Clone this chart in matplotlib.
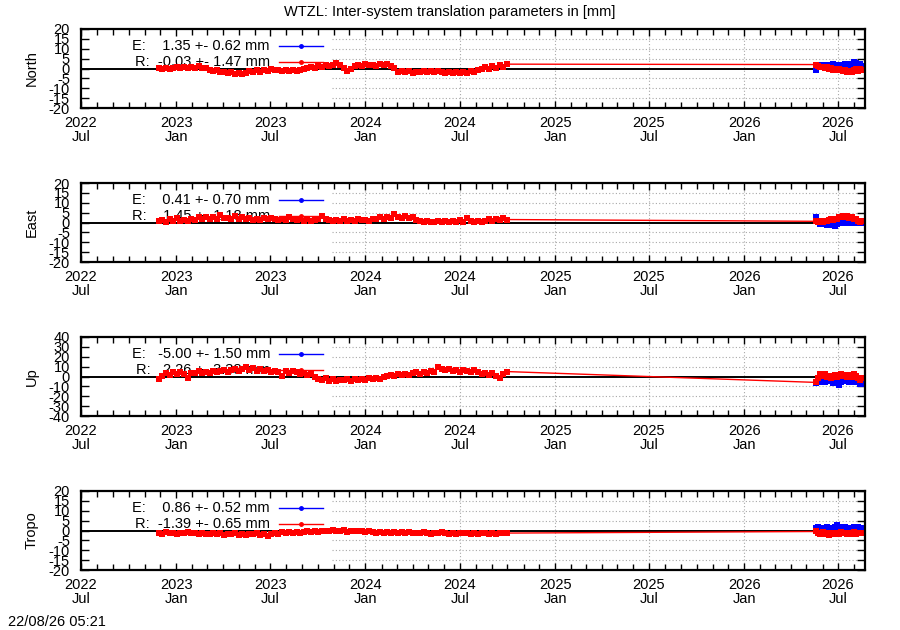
import matplotlib
matplotlib.use('Agg')
import matplotlib.pyplot as plt
import matplotlib.dates as mdates
import numpy as np
import pandas as pd

plt.rcParams['font.family'] = ['Liberation Sans', 'DejaVu Sans']
FS = 10.5

TITLE = "WTZL: Inter-system translation parameters in [mm]"
STAMP = "22/08/26 05:21"
PANELS = ["North", "East", "Up", "Tropo"]
YLIMS = [(-20, 20, 5), (-20, 20, 5), (-40, 40, 10), (-20, 20, 5)]
E_LABELS = ["E:    1.35 +- 0.62 mm", "E:    0.41 +- 0.70 mm",
            "E:   -5.00 +- 1.50 mm", "E:    0.86 +- 0.52 mm"]
R_LABELS = ["R:  -0.03 +- 1.47 mm", "R:    1.45 +- 1.18 mm",
            "R:   2.26 +- 3.38 mm", "R:  -1.39 +- 0.65 mm"]

XMIN, XMAX = "2022-07-01", "2026-08-22"
SEG1_START, SEG1_STEP = "2022-11-28", "7D"
SEG2_START, SEG2_STEP = "2026-05-20", "4D"

north_r1 = [0.2, -0.4, 0.5, -0.2, 0.3, 0.8, 0.2, 1.0, 0.4, 0.9,
            0.3, 1.1, 0.5, 0.2, -0.8, -1.5, -1.0, -2.0, -1.6, -2.4,
            -1.8, -2.6, -2.1, -3.0, -2.2, -1.4, -1.9, -1.0, -1.6, -0.6,
            -1.2, -0.4, -1.0, -0.7, -1.3, -0.8, -1.1, -0.6, -1.2, -0.9,
            -0.4, 0.2, 0.8, 0.4, 1.2, 0.8, 1.6, 1.1, 2.0, 2.6,
            1.8, 0.4, -1.2, -0.2, 1.2, 1.8, 1.4, 2.2, 1.6, 2.0,
            1.5, 2.4, 1.7, 2.1, 1.4, 0.5, -1.8, -1.2, -2.0, -1.5,
            -2.2, -1.6, -1.9, -1.3, -1.8, -1.4, -2.0, -1.5, -1.9, -2.3,
            -1.7, -2.5, -2.0, -2.4, -1.8, -2.2, -1.2, -1.6, -0.8, -0.2,
            0.6, -0.3, 1.2, 0.5, 1.8, 1.0, 2.2]
north_r2 = [2.0, 1.2, 0.6, 1.0, 0.2, 0.6, -0.2, 0.4, -0.6, 0.0, -0.8, -0.3,
            -1.0, -1.4, -0.8, -1.8, -1.2, -2.0, -1.0, -0.4, -1.2, -0.2, -0.8]
north_e2 = [-0.8, 1.0, 1.6, 1.2, 2.0, 1.4, 1.8, 1.2, 2.2, 1.6, 1.8, 1.3,
            2.0, 1.5, 2.3, 1.8, 2.4, 2.0, 3.2, 2.6, 1.8, 2.4, 1.2]

east_r1 = [0.8, 1.5, 0.4, 1.8, 1.0, 2.2, 0.6, 1.4, 0.9, 2.0,
           1.2, 2.6, 1.8, 3.0, 2.0, 2.8, 1.6, 3.6, 2.2, 2.5,
           1.8, 3.2, 2.0, 2.6, 1.7, 2.3, 1.5, 2.0, 1.4, 2.1,
           1.6, 2.4, 1.8, 1.3, 2.0, 1.5, 2.6, 1.7, 1.2, 1.8,
           1.0, 1.6, 0.9, 1.4, 2.0, 3.2, 1.8, 1.2, 0.8, 1.5,
           1.0, 1.6, 0.7, 1.3, 1.0, 1.8, 1.1, 1.5, 0.9, 1.6,
           2.0, 2.6, 1.9, 3.0, 2.4, 4.2, 3.0, 2.5, 3.4, 2.2,
           2.8, 1.5, 0.6, 0.2, 0.8, 0.4, 0.1, 0.7, 0.3, 0.6,
           0.2, 0.9, 0.4, 1.2, 0.5, 2.4, 0.8, 0.3, 0.7, 0.2,
           1.0, 1.6, 0.8, 1.9, 1.2, 2.2, 1.5]
east_r2 = [0.6, 0.2, 0.8, 0.4, 1.0, 0.6, 1.4, 1.8, 1.2, 2.0, 1.6, 2.6,
           3.0, 3.4, 2.8, 3.2, 2.4, 2.8, 2.0, 1.6, 1.0, 0.4, 0.8]
east_e2 = [2.6, 0.4, -0.6, -1.0, -0.4, -1.2, -0.2, -0.8, -1.4, -1.7, -0.6, -0.2,
           0.3, -0.4, 0.2, -0.3, 0.4, -0.2, 0.6, 0.1, -0.5, 0.2, -0.3]

up_r1 = [-3.0, 0.5, 3.5, 2.0, 5.0, 3.0, 4.5, 2.5, -2.0, 3.5,
         4.0, 5.5, 3.5, 5.0, 4.0, 6.0, 4.5, 5.5, 7.0, 5.0,
         6.5, 8.0, 6.0, 7.5, 10.0, 7.0, 8.5, 6.0, 7.5, 5.5,
         6.5, 4.5, 6.0, 5.0, 0.5, 5.5, 4.0, 6.0, 4.5, 3.0,
         3.5, 2.0, 2.5, 0.0, -2.5, -3.5, -2.0, -4.5, -3.0, -5.0,
         -3.5, -4.0, -2.5, -5.0, -3.0, -4.0, -2.5, -3.5, -2.0, -3.0,
         -1.5, -2.5, -1.0, 0.5, 1.5, 1.0, 2.5, 1.5, 3.0, 2.0,
         3.5, 4.5, 3.0, 5.0, 4.0, 5.5, 4.5, 9.5, 8.0, 6.5,
         7.5, 5.5, 6.5, 5.0, 7.0, 6.0, 4.5, 6.5, 5.0, 3.0,
         4.0, 2.0, 3.5, 1.0, -1.5, 2.5, 5.0]
up_r2 = [-6.0, -2.0, 2.5, 0.5, 3.0, -1.0, 1.0, -2.0, 0.0, 2.0, -0.5, 1.5,
         3.0, 0.5, 2.0, -1.0, 1.5, 0.0, 3.0, 1.0, -1.5, -4.0, -2.0]
up_e2 = [-7.0, -4.0, -5.5, -3.5, -6.0, -4.5, -5.0, -3.5, -6.5, -4.0, -5.5, -8.5,
         -6.0, -4.5, -5.0, -3.5, -5.5, -4.0, -6.0, -4.5, -5.5, -7.5, -8.0]

tropo_r1 = [-1.2, -1.8, -1.0, -1.5, -1.1, -1.6, -1.2, -1.4, -0.9, -1.5,
            -1.3, -1.7, -1.2, -1.6, -2.0, -1.5, -1.9, -1.4, -2.2, -1.7,
            -2.0, -1.5, -2.3, -1.8, -2.1, -1.6, -2.0, -1.5, -2.4, -1.8,
            -3.0, -1.6, -1.2, -1.7, -1.0, -1.4, -0.9, -1.3, -0.7, -1.2,
            -0.8, -0.5, -1.0, -0.2, -0.6, 0.0, -0.4, -0.1, 0.2, -0.5,
            -0.2, 0.1, -0.6, -0.3, 0.0, -0.5, -0.2, -0.8, -0.4, -0.9,
            -1.1, -0.7, -1.3, -0.9, -1.2, -1.0, -1.4, -0.8, -1.3, -1.0,
            -1.5, -1.1, -1.4, -0.9, -1.3, -1.6, -1.2, -1.5, -1.0, -1.4,
            -1.7, -1.3, -1.8, -1.2, -1.5, -1.1, -1.6, -1.3, -1.9, -1.4,
            -1.2, -1.7, -1.3, -1.6, -1.1, -1.5, -1.3]
tropo_r2 = [-0.5, -1.2, -1.6, -1.0, -1.8, -1.3, -2.2, -1.5, -1.1, -2.0, -1.4, -1.7,
            -1.0, -1.5, -1.2, -1.9, -1.3, -1.6, -1.0, -1.8, -1.2, -1.5, -1.3]
tropo_e2 = [1.2, 1.6, 0.9, 1.4, 1.1, 1.7, 1.3, 1.0, 1.5, 1.8, 2.6, 1.9,
            1.4, 1.2, 1.6, 1.0, 1.5, 1.3, 1.7, 1.2, 1.6, 1.1, 1.4]

R1 = [north_r1, east_r1, up_r1, tropo_r1]
R2 = [north_r2, east_r2, up_r2, tropo_r2]
E2 = [north_e2, east_e2, up_e2, tropo_e2]

W, H = 900, 630
fig = plt.figure(figsize=(9, 6.3), dpi=100)
fig.patch.set_facecolor('white')

LEFT, RIGHT = 81, 865
TOPS = [29, 183, 337, 491]
PH = 79
KEY_RIGHT = 332

x0 = pd.Timestamp(XMIN)
x1 = pd.Timestamp(XMAX)

for k in range(4):
    top = TOPS[k]
    ax = fig.add_axes([LEFT / W, 1 - (top + PH) / H, (RIGHT - LEFT) / W, PH / H])
    lo, hi, st = YLIMS[k]
    d1 = pd.date_range(SEG1_START, periods=len(R1[k]), freq=SEG1_STEP)
    d2 = pd.date_range(SEG2_START, periods=len(R2[k]), freq=SEG2_STEP)
    dates_r = d1.append(d2)
    vals_r = list(R1[k]) + list(R2[k])

    ax.set_xlim(x0, x1)
    ax.set_ylim(lo, hi)
    yt = np.arange(lo, hi + st, st)
    ax.set_yticks(yt)
    ax.set_yticklabels([str(int(v)) for v in yt])
    ax.xaxis.set_major_locator(mdates.MonthLocator(bymonth=[1, 7]))
    ax.xaxis.set_minor_locator(mdates.MonthLocator())
    ax.xaxis.set_major_formatter(mdates.DateFormatter('%Y\n%b'))

    ax.tick_params(axis='x', which='major', direction='in', length=5, width=1,
                   top=True, labelsize=FS, pad=6)
    ax.tick_params(axis='x', which='minor', direction='in', length=4, width=1, top=True)
    ax.tick_params(axis='y', which='major', direction='in', length=6, width=1,
                   right=True, labelsize=FS, pad=8)
    for lab in ax.get_xticklabels():
        lab.set_linespacing(1.0)
    for sp in ax.spines.values():
        sp.set_linewidth(1.6)
        sp.set_zorder(5)

    # grid (hidden behind the opaque key region)
    cut_frac = (KEY_RIGHT - LEFT) / (RIGHT - LEFT)
    cut_num = mdates.date2num(x0) + cut_frac * (mdates.date2num(x1) - mdates.date2num(x0))
    for t in ax.get_xticks():
        if cut_num <= t <= mdates.date2num(x1):
            ax.axvline(t, color='#a8a8a8', lw=0.8, linestyle=(0, (1, 2)), zorder=0.5)
    for v in yt:
        if v not in (lo, hi, 0):
            ax.axhline(v, xmin=cut_frac, xmax=1, color='#a8a8a8', lw=0.8,
                       linestyle=(0, (1, 2)), zorder=0.5)

    ax.axhline(0, color='black', lw=1.4, zorder=1.5)

    # key
    ky = [1 - 16.7 / PH, 1 - 32.7 / PH]
    tx = (270 - LEFT) / (RIGHT - LEFT)
    lx = [(279 - LEFT) / (RIGHT - LEFT), (301 - LEFT) / (RIGHT - LEFT),
          (323 - LEFT) / (RIGHT - LEFT)]
    for yy, lab, col in [(ky[0], E_LABELS[k], 'blue'), (ky[1], R_LABELS[k], 'red')]:
        ax.text(tx, yy, lab, transform=ax.transAxes, ha='right', va='center',
                fontsize=FS, zorder=1)
        ax.plot(lx, [yy] * 3, color=col, lw=1, marker='o', ms=2.5,
                markevery=[1], transform=ax.transAxes, zorder=1, clip_on=False)

    # data
    ax.plot(d2, E2[k], color='blue', lw=1.0, marker='s', ms=4.5, mew=0, zorder=2)
    ax.plot(dates_r, vals_r, color='red', lw=1.0, marker='s', ms=4.5, mew=0, zorder=3)

    fig.text(32 / W, 1 - (top + PH / 2) / H, PANELS[k], rotation=90,
             ha='center', va='center', fontsize=FS)

fig.text(0.5, 1 - 12 / H, TITLE, ha='center', va='center', fontsize=FS)
fig.text(8 / W, 1 - 622 / H, STAMP, ha='left', va='center', fontsize=FS)

fig.savefig('out.png', dpi=100)
